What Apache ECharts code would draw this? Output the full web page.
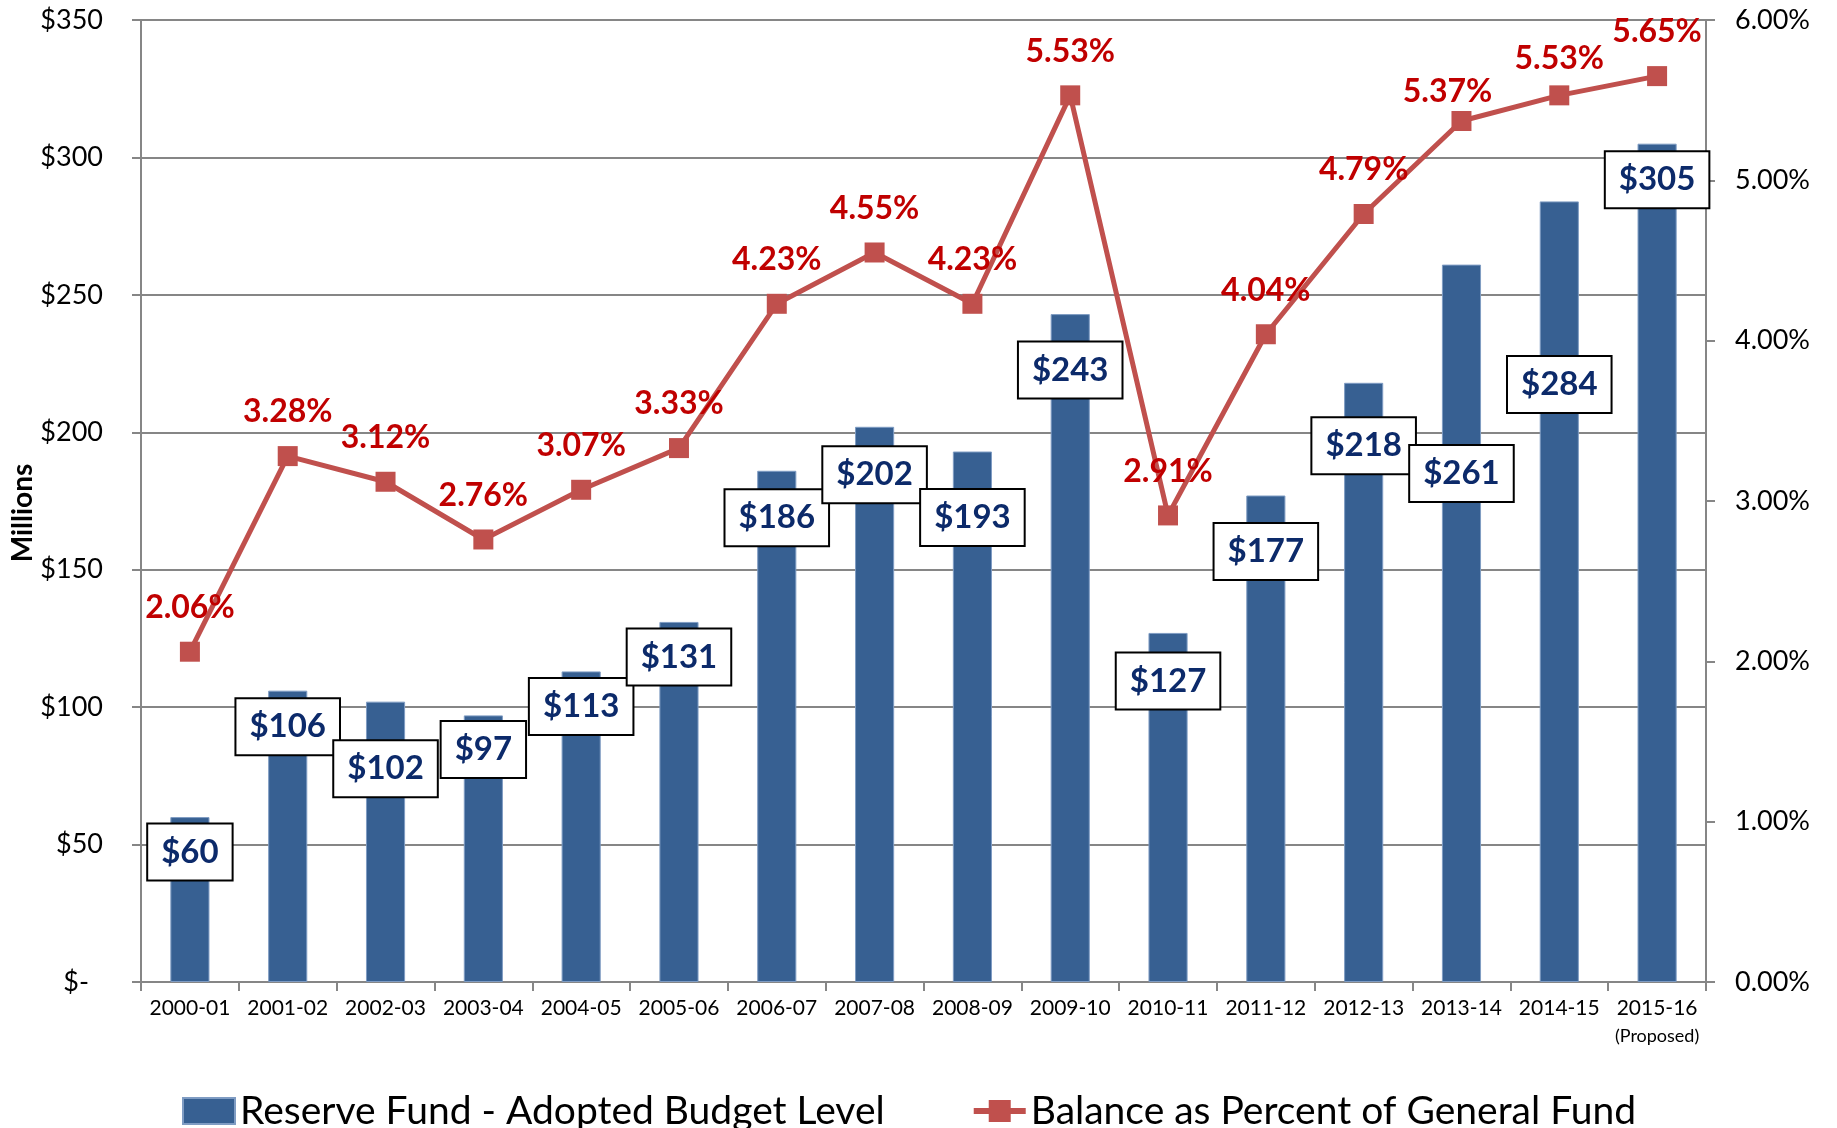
<!DOCTYPE html>
<html>
<head>
<meta charset="utf-8">
<script src="https://cdn.jsdelivr.net/npm/echarts@6/dist/echarts.min.js"></script>
<style>
  html, body { margin: 0; padding: 0; background: #ffffff; }
  #chart { width: 1837px; height: 1128px; }
</style>
</head>
<body>
<div id="chart"></div>
<script>
// ---- data ----
const categories = ['2000-01','2001-02','2002-03','2003-04','2004-05','2005-06','2006-07','2007-08',
                    '2008-09','2009-10','2010-11','2011-12','2012-13','2013-14','2014-15','2015-16'];
const reserveFund = [60,106,102,97,113,131,186,202,193,243,127,177,218,261,284,305];
const percentOfGF = [2.06,3.28,3.12,2.76,3.07,3.33,4.23,4.55,4.23,5.53,2.91,4.04,4.79,5.37,5.53,5.65];
const leftTicks = { min: 0, max: 350, interval: 50 };
const rightTicks = { min: 0, max: 6, interval: 1 };
const seriesNames = ['Reserve Fund - Adopted Budget Level', 'Balance as Percent of General Fund'];

// ---- label layout (pixel nudges, not data) ----
const barLabelDy = [35,36,67,34,35,35,47,48,66,56,48,56,63,209,183,36];
const lineLabelNudge = { 13: [-14, 15], 14: [0, 7] };

const FONT = 'Lato';
const chart = echarts.init(document.getElementById('chart'), null, { renderer: 'canvas' });

const barData = reserveFund.map((v, i) => ({
  value: v,
  label: { position: ['50%', barLabelDy[i]] }
}));
const lineData = percentOfGF.map((v, i) => {
  const n = lineLabelNudge[i] || [0, 0];
  return { value: v, label: { offset: n } };
});

// legend icon: thick line with a square marker (52 x 26 box)
const lineLegendIcon = 'path://M0,10 L15,10 L15,2 L37,2 L37,10 L52,10 L52,16 L37,16 L37,24 L15,24 L15,16 L0,16 Z';

chart.setOption({
  animation: false,
  backgroundColor: '#ffffff',
  textStyle: { fontFamily: FONT },
  grid: { left: 141, right: 131, top: 20, bottom: 146, containLabel: false, outerBoundsMode: 'none' },
  legend: {
    left: 177, top: 1084,
    itemWidth: 52, itemHeight: 26, itemGap: 89,
    textStyle: { fontFamily: FONT, fontSize: 39, color: '#000', lineHeight: 44 },
    data: [
      { name: seriesNames[0], icon: 'rect' },
      { name: seriesNames[1], icon: lineLegendIcon, itemStyle: { color: '#C0504D' } }
    ]
  },
  xAxis: {
    type: 'category',
    data: categories,
    boundaryGap: true,
    axisLine: { lineStyle: { color: '#868686', width: 2 } },
    axisTick: { show: true, length: 9, interval: 0, lineStyle: { color: '#868686', width: 2 } },
    axisLabel: {
      interval: 0,
      margin: 12, fontSize: 21, color: '#000', lineHeight: 28, fontFamily: FONT,
      formatter: (v, i) => i === categories.length - 1 ? v + '\n{p|(Proposed)}' : v,
      rich: { p: { fontSize: 18, fontFamily: FONT, color: '#000', lineHeight: 28 } }
    }
  },
  yAxis: [
    {
      type: 'value', min: leftTicks.min, max: leftTicks.max, interval: leftTicks.interval,
      name: 'Millions', nameLocation: 'middle', nameGap: 104, nameRotate: 90, nameMoveOverlap: false,
      nameTextStyle: { fontFamily: FONT, fontSize: 28, fontWeight: 'bold', color: '#000', padding: [0, 24, 0, 0] },
      axisLine: { show: true, lineStyle: { color: '#868686', width: 2 } },
      axisTick: { show: true, length: 9, lineStyle: { color: '#868686', width: 2 } },
      splitLine: { show: true, lineStyle: { color: '#868686', width: 2 } },
      axisLabel: {
        margin: 38, fontSize: 27, color: '#000', fontFamily: FONT,
        formatter: v => v === 0 ? '{z|$-}' : '$' + v,
        rich: { z: { fontSize: 27, fontFamily: FONT, color: '#000', padding: [0, 14, 0, 0] } }
      }
    },
    {
      type: 'value', min: rightTicks.min, max: rightTicks.max, interval: rightTicks.interval,
      position: 'right',
      axisLine: { show: true, lineStyle: { color: '#868686', width: 2 } },
      axisTick: { show: true, length: 9, lineStyle: { color: '#868686', width: 2 } },
      splitLine: { show: false },
      axisLabel: {
        margin: 29, fontSize: 27, color: '#000', fontFamily: FONT,
        formatter: v => v.toFixed(2) + '%'
      }
    }
  ],
  series: [
    {
      name: seriesNames[0],
      type: 'bar',
      yAxisIndex: 0,
      data: barData,
      barWidth: '40%',
      itemStyle: { color: '#376092', borderColor: '#7F9CC3', borderWidth: 1 },
      z: 2,
      label: {
        show: true,
        formatter: p => '$' + p.value,
        align: 'center', verticalAlign: 'middle',
        fontFamily: FONT, fontSize: 33, fontWeight: 'bold', color: '#0C2A6A',
        backgroundColor: '#ffffff', borderColor: '#000000', borderWidth: 2,
        padding: [9, 13, 8, 13], lineHeight: 38
      }
    },
    {
      name: seriesNames[1],
      type: 'line',
      yAxisIndex: 1,
      data: lineData,
      symbol: 'rect', symbolSize: 20,
      lineStyle: { color: '#C0504D', width: 5 },
      itemStyle: { color: '#C0504D' },
      z: 5,
      label: {
        show: true, position: 'top', distance: 18,
        formatter: p => p.value.toFixed(2) + '%',
        fontFamily: FONT, fontSize: 32, fontWeight: 'bold', color: '#C00000', lineHeight: 32
      }
    }
  ]
});
</script>
</body>
</html>
